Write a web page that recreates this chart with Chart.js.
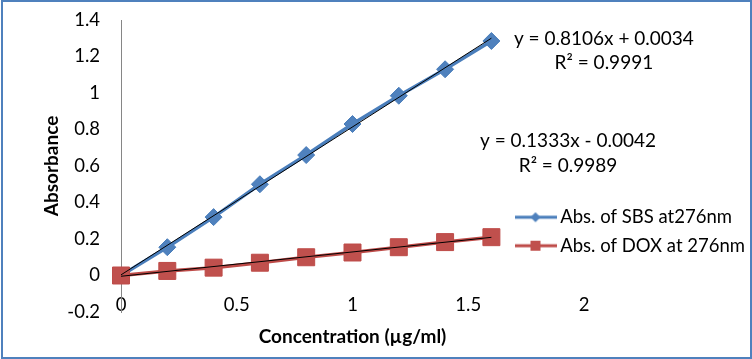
<!DOCTYPE html>
<html>
<head>
<meta charset="utf-8">
<script src="https://cdn.jsdelivr.net/npm/chart.js@4/dist/chart.umd.min.js"></script>
<style>
  body { margin: 0; background: #fff; }
  #wrap { position: relative; width: 752px; height: 359px; }
  #frame { position: absolute; left: 1px; top: 0; right: 0; bottom: 0; border: 2px solid #4F81BD; pointer-events: none; }
</style>
</head>
<body>
<div id="wrap">
  <canvas id="chart" width="752" height="359"></canvas>
  <div id="frame"></div>
</div>
<script>
// Datos
const concentrations = [0, 0.2, 0.4, 0.6, 0.8, 1.0, 1.2, 1.4, 1.6];
const absSBS = [0, 0.155, 0.32, 0.50, 0.66, 0.83, 0.985, 1.13, 1.285];
const absDOX = [0, 0.025, 0.043, 0.07, 0.10, 0.126, 0.155, 0.183, 0.21];

// Líneas de tendencia (extremos según las ecuaciones mostradas)
const trendX = [0, 1.6];
const trendSBS = [0.0034, 1.3004];
const trendDOX = [-0.0042, 0.2091];

const seriesNames = ['Abs. of SBS at276nm', 'Abs. of DOX at 276nm'];
const equations = [
  { lines: ['y = 0.8106x + 0.0034', 'R² = 0.9991'], x: 2.086, y: [1.295, 1.165] },
  { lines: ['y = 0.1333x - 0.0042', 'R² = 0.9989'], x: 1.931, y: [0.737, 0.60] }
];

const FONT = 'Lato';
const BLUE = '#4F81BD', BLUE_LINE = '#4A7EBB';
const RED = '#C0504D', RED_LINE = '#BE4B48';

function toPoints(xs, ys) {
  return xs.map((x, i) => ({ x: x, y: ys[i] }));
}

// Formato de ticks: 1, 0.8, 0, -0.2 ...
function tickText(v) {
  return String(Math.round(v * 10) / 10);
}

// Muestra de leyenda: línea con marcador
function legendSwatch(color, fill, shape) {
  const c = document.createElement('canvas');
  c.width = 42; c.height = 14;
  const g = c.getContext('2d');
  g.strokeStyle = color; g.lineWidth = 3;
  g.beginPath(); g.moveTo(0, 7); g.lineTo(42, 7); g.stroke();
  g.fillStyle = fill;
  g.beginPath();
  if (shape === 'diamond') {
    g.moveTo(21, 2); g.lineTo(26, 7); g.lineTo(21, 12); g.lineTo(16, 7);
  } else {
    g.rect(16, 2, 10, 10);
  }
  g.closePath(); g.fill();
  return c;
}
const swatches = [legendSwatch(BLUE_LINE, BLUE, 'diamond'), legendSwatch(RED_LINE, RED, 'square')];

const equationPlugin = {
  id: 'equations',
  afterDraw(chart) {
    const { ctx, scales } = chart;
    ctx.save();
    ctx.font = '19px ' + FONT;
    ctx.fillStyle = '#000';
    ctx.textAlign = 'center';
    ctx.textBaseline = 'middle';
    equations.forEach(eq => {
      const px = scales.x.getPixelForValue(eq.x);
      eq.lines.forEach((t, i) => ctx.fillText(t, px, scales.y.getPixelForValue(eq.y[i])));
    });
    ctx.restore();
  }
};

// Mover la leyenda dentro del área del gráfico
const legendPlacer = {
  id: 'legendPlacer',
  afterLayout(chart) {
    const lg = chart.legend;
    const w = lg.width, h = lg.height;
    lg.left = 510; lg.top = 198;
    lg.right = lg.left + w; lg.bottom = lg.top + h;
  }
};

new Chart(document.getElementById('chart'), {
  type: 'scatter',
  data: {
    datasets: [
      {
        label: 'trendSBS', data: toPoints(trendX, trendSBS), showLine: true,
        borderColor: '#000', borderWidth: 1, pointRadius: 0, order: 0
      },
      {
        label: 'trendDOX', data: toPoints(trendX, trendDOX), showLine: true,
        borderColor: '#000', borderWidth: 1, pointRadius: 0, order: 0
      },
      {
        label: seriesNames[0], data: toPoints(concentrations, absSBS), showLine: true, clip: false,
        borderColor: BLUE_LINE, borderWidth: 3.5, pointStyle: 'rectRot', pointRadius: 8.5,
        pointBackgroundColor: BLUE, pointBorderColor: BLUE_LINE, pointBorderWidth: 1, order: 2
      },
      {
        label: seriesNames[1], data: toPoints(concentrations, absDOX), showLine: true, clip: false,
        borderColor: RED_LINE, borderWidth: 3.5, pointStyle: 'rect', pointRadius: 12,
        pointBackgroundColor: RED, pointBorderColor: RED_LINE, pointBorderWidth: 1, order: 1
      }
    ]
  },
  options: {
    responsive: false,
    animation: false,
    layout: { padding: { top: 20, right: 168, bottom: 0, left: 0 } },
    plugins: {
      tooltip: { enabled: false },
      legend: {
        position: 'chartArea',
        align: 'start',
        labels: {
          usePointStyle: true,
          pointStyleWidth: 31,
          padding: 10,
          color: '#000',
          font: { family: FONT, size: 18.5 },
          generateLabels: () => seriesNames.map((name, i) => ({
            text: name, pointStyle: swatches[i], datasetIndex: i + 2,
            fillStyle: 'transparent', strokeStyle: 'transparent', lineWidth: 0, fontColor: '#000'
          }))
        }
      }
    },
    scales: {
      x: {
        type: 'linear', min: 0, max: 2,
        grid: { display: false, drawTicks: false },
        border: { display: false },
        ticks: {
          stepSize: 0.5, mirror: true, padding: -4, color: '#000', font: { family: FONT, size: 18.5 },
          callback: tickText
        },
        title: {
          display: true, text: 'Concentration (µg/ml)', color: '#000',
          font: { family: FONT, size: 19, weight: 'bold' }, padding: { top: 0, bottom: 11 }
        },
        afterFit(scale) {
          scale.height = 47;
          scale.paddingLeft = 0; scale.paddingRight = 0;
        }
      },
      y: {
        min: -0.2, max: 1.4,
        grid: {
          drawTicks: false,
          color: ctx => (ctx.tick && ctx.tick.value === 0 ? '#868686' : 'rgba(0,0,0,0)')
        },
        border: { display: true, color: '#868686', width: 1 },
        ticks: {
          stepSize: 0.2, padding: 21, color: '#000', font: { family: FONT, size: 18.5 },
          callback: tickText
        },
        title: {
          display: true, text: 'Absorbance', color: '#000',
          font: { family: FONT, size: 19, weight: 'bold' }, padding: { top: 40, bottom: 0 }
        },
        afterFit(scale) {
          scale.width = 121;
          scale.paddingTop = 0; scale.paddingBottom = 0;
        }
      }
    }
  },
  plugins: [equationPlugin, legendPlacer]
});
</script>
</body>
</html>
